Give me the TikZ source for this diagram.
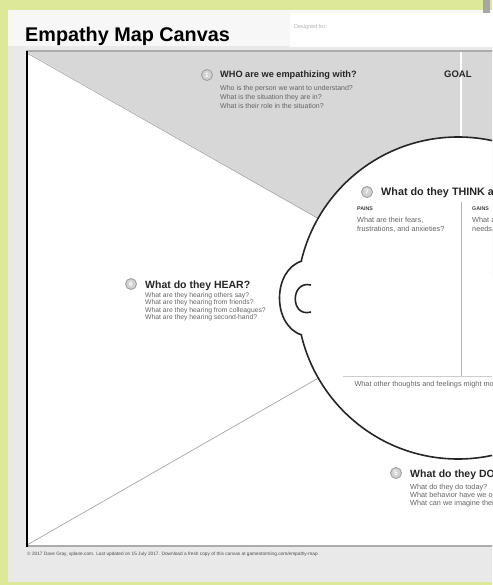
\documentclass[tikz,border=0pt]{standalone}
\usepackage{fontspec}
\setmainfont{Liberation Sans}
\definecolor{limebg}{RGB}{221,233,152}
\definecolor{pagegray}{RGB}{233,233,233}
\definecolor{whogray}{RGB}{215,215,215}
\definecolor{inkgray}{RGB}{100,100,100}

\begin{document}
\begin{tikzpicture}[x=1pt, y=-1pt,
    heading/.style={anchor=base west, inner sep=0pt, text=black!85, font=\bfseries\fontsize{10}{12}\selectfont},
    bodytext/.style={anchor=north west, inner sep=0pt, align=left, text=inkgray, font=\fontsize{7}{9}\selectfont},
    smallhead/.style={anchor=base west, inner sep=0pt, text=black!75, font=\bfseries\fontsize{5.3}{5.3}\selectfont},
    numdot/.style={circle, draw=gray!75, fill=gray!35, line width=0.9pt, minimum size=11pt, inner sep=0pt, text=white, font=\bfseries\fontsize{6.5}{6.5}\selectfont}]

    \useasboundingbox (0,0) rectangle (492,585);
    \clip (0,0) rectangle (492,585);

    % --- BACKGROUND ---
    \fill[limebg] (0,0) rectangle (492,585);
    \fill[pagegray] (8,10) rectangle (492,582);
    \fill[gray!6] (8,10) rectangle (492,46);
    \fill[gray!70] (483,0) rectangle (490,33);
    \fill[white] (290,13) rectangle (492,47);
    \node[anchor=base west, inner sep=0pt, text=gray!60, font=\fontsize{5.5}{5.5}\selectfont] (designfor) at (294,29) {Designed for:};

    \node[anchor=base west, inner sep=0pt, font=\bfseries\fontsize{19.8}{20}\selectfont] (title) at (25,42) {Empathy Map Canvas};

    % --- CANVAS ---
    \fill[white] (27,52) rectangle (500,546);
    \fill[whogray] (27,52) -- (458,298) -- (889,52) -- cycle;
    \draw[white, line width=1.2pt] (461,52) -- (461,150);
    \draw[gray!70, line width=0.7pt] (27,53) -- (458,298) -- (27,545);

    % The Head
    \draw[black!85, line width=1.6pt, fill=white] (458,298) circle[radius=161];
    \fill[white] (302,261) .. controls (272,270) and (272,326) .. (302,335) -- cycle;
    \draw[black!85, line width=1.6pt] (302,261) .. controls (272,270) and (272,326) .. (302,335);
    \draw[black!85, line width=1.6pt] (311,285) .. controls (290,280) and (290,318) .. (311,312);
    \draw[gray!60, line width=0.6pt] (461,202) -- (461,376);
    \draw[gray!40, line width=0.6pt] (343,376) -- (620,376);

    \draw[gray!65, line width=2.5pt] (26,51) -- (500,51);
    \draw[gray!65, line width=2.5pt] (26,546) -- (500,546);
    \draw[black, line width=1.8pt] (27,51) -- (27,547);

    % --- WHO / GOAL ---
    \node[numdot] (n1) at (207,75) {1};
    \node[heading, font=\bfseries\fontsize{9.2}{11}\selectfont] (who) at (220,78) {WHO are we empathizing with?};
    \node[bodytext] (whotext) at (220,85) {Who is the person we want to understand?\\What is the situation they are in?\\What is their role in the situation?};
    \node[heading, font=\bfseries\fontsize{9.5}{11}\selectfont] (goal) at (444,78) {GOAL};

    % --- THINK AND FEEL ---
    \node[numdot] (n7) at (367,192) {7};
    \node[heading, font=\bfseries\fontsize{10.8}{12}\selectfont] (think) at (381,196) {What do they THINK and FEEL?};
    \node[smallhead] (pains) at (357,210) {PAINS};
    \node[bodytext, font=\fontsize{7.3}{9}\selectfont] (painstext) at (357,217) {What are their fears,\\frustrations, and anxieties?};
    \node[smallhead] (gains) at (472,210) {GAINS};
    \node[bodytext, font=\fontsize{7.3}{9}\selectfont] (gainstext) at (472,217) {What are their wants,\\needs, hopes and dreams?};
    \node[anchor=base, inner sep=0pt, text=inkgray, font=\fontsize{7.3}{7.3}\selectfont] (other) at (458,386) {What other thoughts and feelings might motivate their behavior?};

    % --- HEAR ---
    \node[numdot] (n6) at (131,284) {6};
    \node[heading, font=\bfseries\fontsize{10.5}{12}\selectfont] (hear) at (145,288) {What do they HEAR?};
    \node[bodytext, font=\fontsize{6.8}{7.6}\selectfont] (heartext) at (145,292) {What are they hearing others say?\\What are they hearing from friends?\\What are they hearing from colleagues?\\What are they hearing second-hand?};

    % --- DO ---
    \node[numdot] (n5) at (396,473) {5};
    \node[heading, font=\bfseries\fontsize{10.5}{12}\selectfont] (do) at (410,477) {What do they DO?};
    \node[bodytext, font=\fontsize{7.3}{8}\selectfont] (dotext) at (410,484) {What do they do today?\\What behavior have we observed?\\What can we imagine them doing?};

    \node[anchor=base west, inner sep=0pt, text=black!70, font=\fontsize{4.75}{5}\selectfont] (footer) at (27,555) {© 2017 Dave Gray, xplane.com. Last updated on 15 July 2017. Download a fresh copy of this canvas at gamestorming.com/empathy-map};
\end{tikzpicture}
\end{document}
